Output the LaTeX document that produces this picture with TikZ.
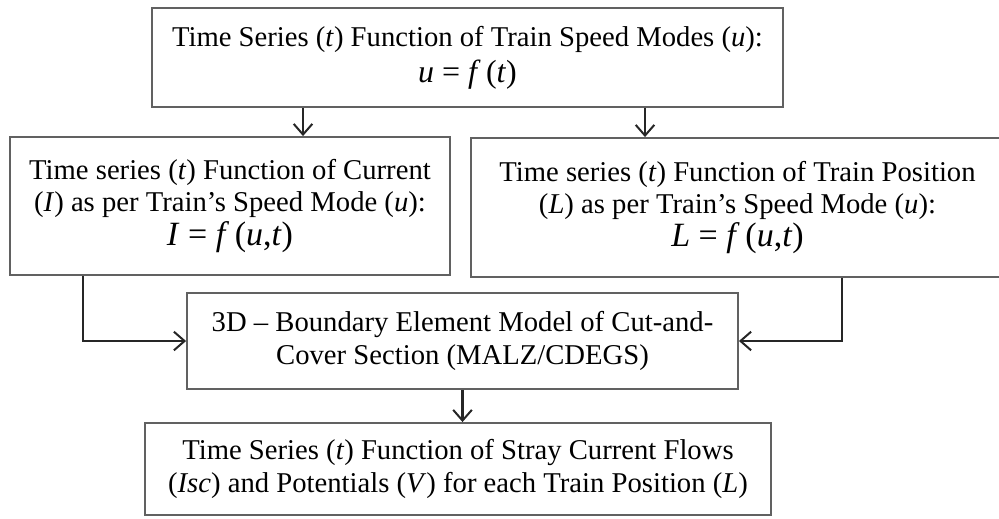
\documentclass[tikz,border=0pt]{standalone}
\usepackage{fontspec}
\setmainfont{Liberation Serif}
\usetikzlibrary{arrows.meta}
\newcommand{\vi}[1]{\textit{#1}}
\newcommand{\eqsize}{\fontsize{24}{27}\selectfont}
\newcommand{\eqbig}{\fontsize{25.5}{28}\selectfont}
\begin{document}
\begin{tikzpicture}[x=0.75pt,y=-0.75pt,
  font=\fontsize{21.5}{24}\selectfont,
  boxs/.style={draw=black!62, line width=1.4pt, align=center, inner sep=0pt},
  conn/.style={draw=black!85, line width=1.6pt, -{Straight Barb[length=8pt,width=14pt,line width=1.5pt]}}]
\useasboundingbox (0,0) rectangle (999,518);

% process boxes
\node[boxs, minimum width=473.25pt, minimum height=74.25pt] (top) at (467.5,57.5)
  {Time Series (\vi{t}) Function of Train Speed Modes (\vi{u}):\\[3pt]
   {\eqsize\vi{u} = \vi{f}\,(\vi{t})}};
\node[boxs, minimum width=330pt, minimum height=103.5pt] (lm) at (230,206)
  {Time series (\vi{t}) Function of Current\\
   (\vi{I}) as per Train's Speed Mode (\vi{u}):\\[1pt]
   {\eqbig\vi{I} = \vi{f}\,(\vi{u},\vi{t})}};
\node[boxs, minimum width=399.75pt, minimum height=104.25pt] (rm) at (737.5,207.5)
  {Time series (\vi{t}) Function of Train Position\\
   (\vi{L}) as per Train's Speed Mode (\vi{u}):\\[1pt]
   {\eqbig\vi{L} = \vi{f}\,(\vi{u},\vi{t})}};
\node[boxs, minimum width=413.25pt, minimum height=72pt] (cb) at (462.5,341)
  {3D -- Boundary Element Model of Cut-and-\\[1pt]
   Cover Section (MALZ/CDEGS)};
\node[boxs, minimum width=469.5pt, minimum height=69pt] (bt) at (458,469)
  {Time Series (\vi{t}) Function of Stray Current Flows\\[1pt]
   (\vi{Isc}) and Potentials (\vi{V}) for each Train Position (\vi{L})};

% connector routing columns
\coordinate (c1) at (303,0);
\coordinate (c2) at (645,0);
\coordinate (c4) at (83,0);
\coordinate (c5) at (842,0);

\draw[conn] (top.south -| c1) -- (lm.north -| c1);
\draw[conn] (top.south -| c2) -- (rm.north -| c2);
\draw[conn] (lm.south -| c4) |- (cb.west);
\draw[conn] (rm.south -| c5) |- (cb.east);
\draw[conn] (cb.south) -- (cb.south |- bt.north);
\end{tikzpicture}
\end{document}
